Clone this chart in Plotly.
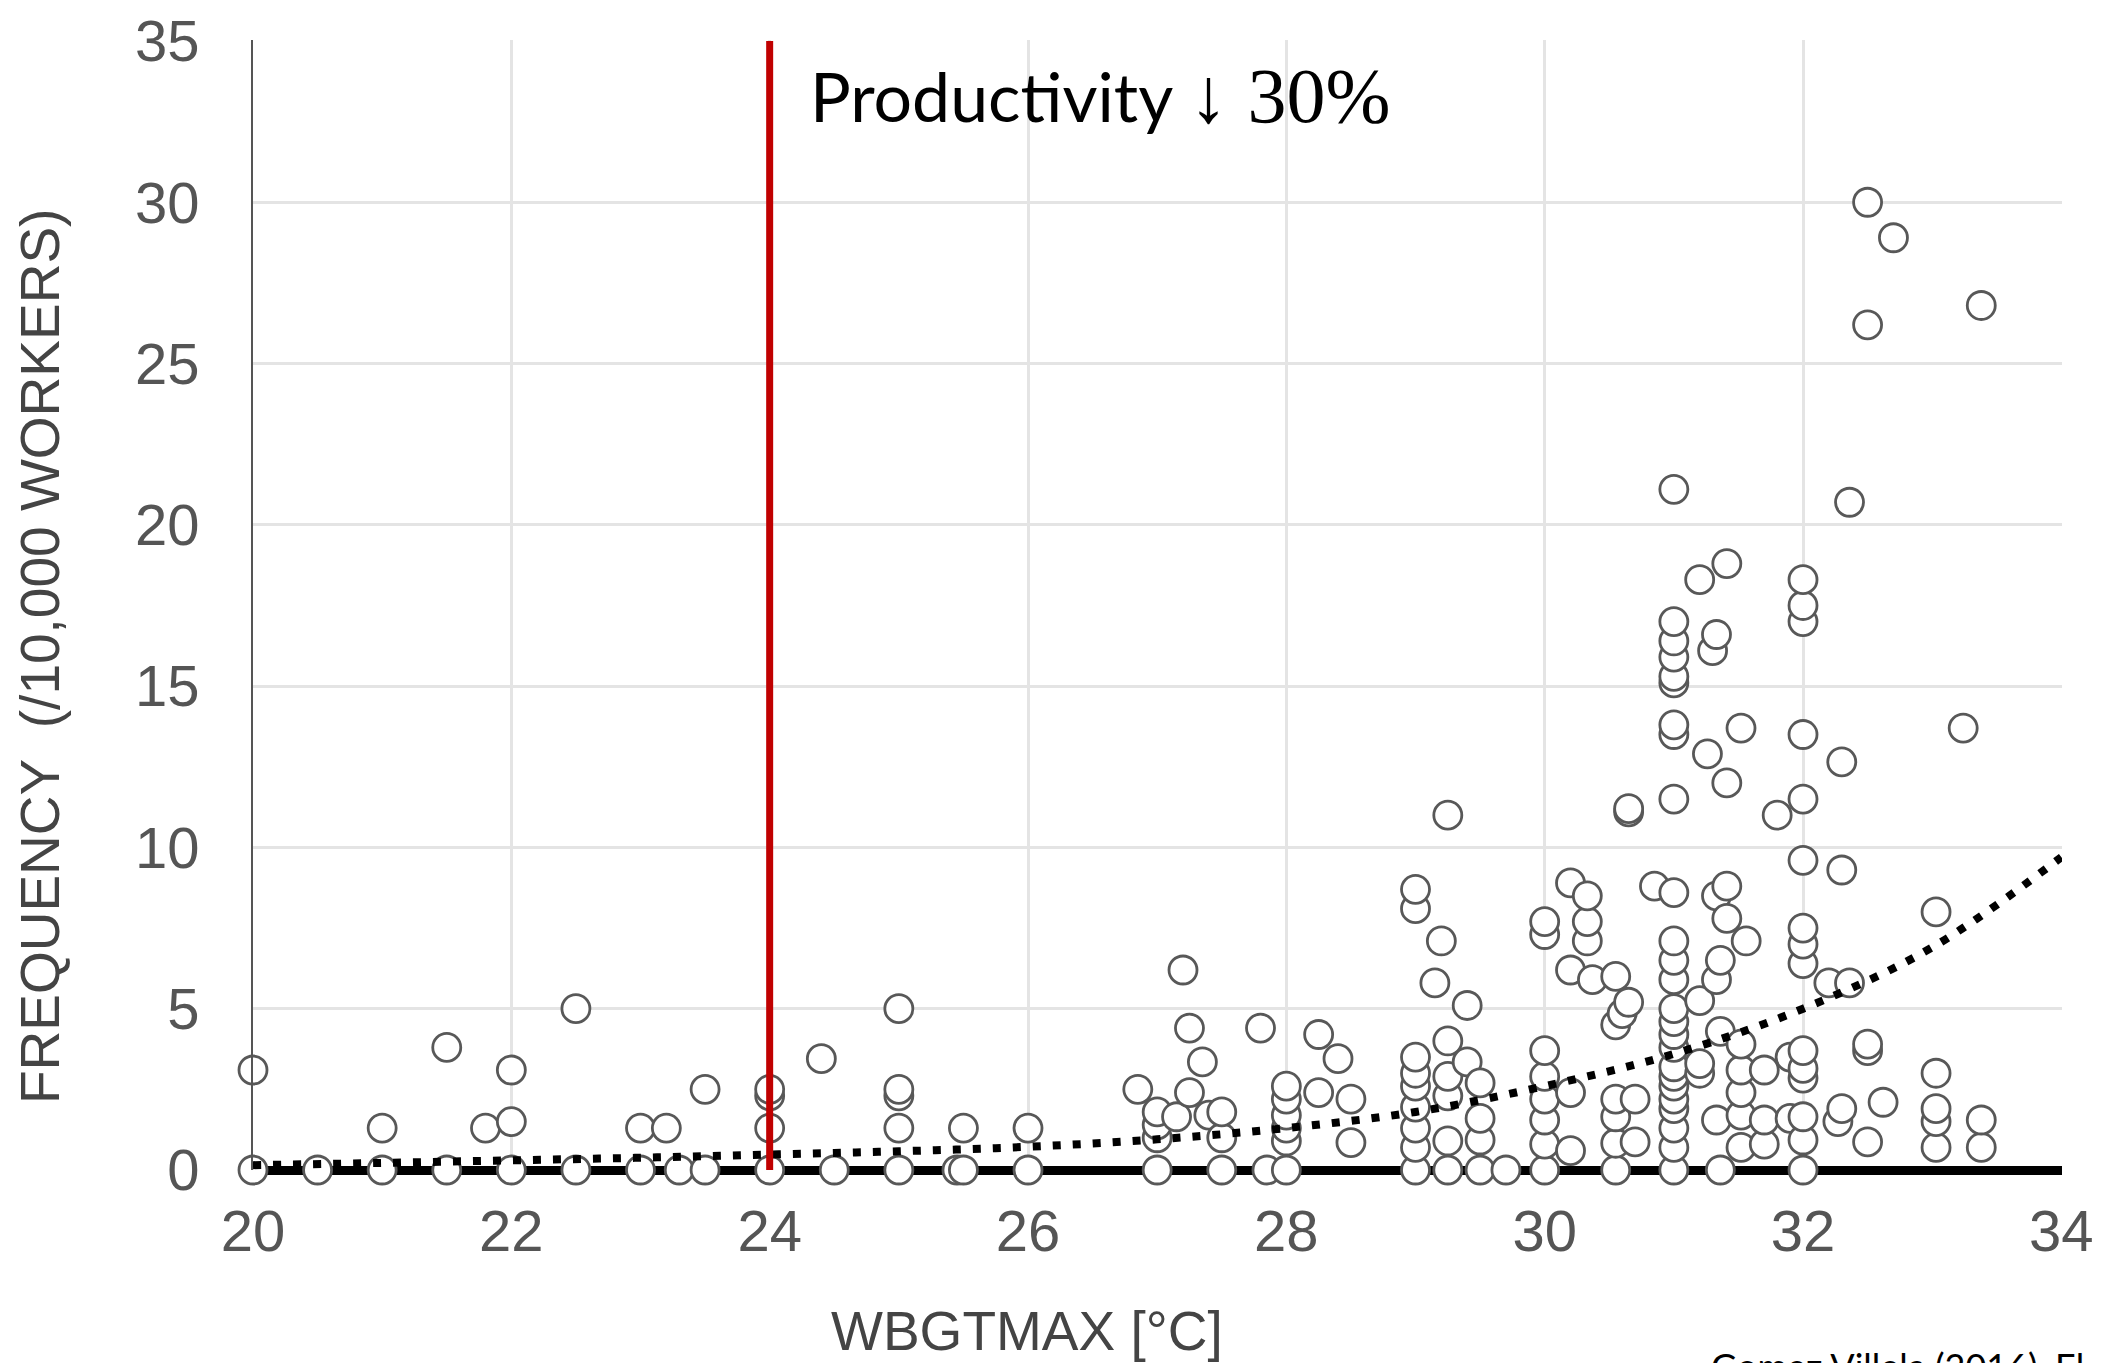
import plotly.graph_objects as go

# ---- data ----
wbgt_max = [
    20.0, 20.0,
    20.5,
    21.0, 21.0,
    21.5, 21.5,
    21.8,
    22.0, 22.0, 22.0,
    22.5, 22.5,
    23.0, 23.0,
    23.2,
    23.3,
    23.5, 23.5,
    24.0, 24.0, 24.0, 24.0,
    24.4,
    24.5,
    25.0, 25.0, 25.0, 25.0, 25.0,
    25.45,
    25.5, 25.5,
    26.0, 26.0,
    26.85,
    27.0, 27.0, 27.0, 27.0,
    27.15,
    27.2,
    27.25, 27.25,
    27.35,
    27.4,
    27.5, 27.5, 27.5,
    27.8,
    27.85,
    28.0, 28.0, 28.0, 28.0, 28.0, 28.0,
    28.25, 28.25,
    28.4,
    28.5, 28.5,
    29.0, 29.0, 29.0, 29.0, 29.0, 29.0, 29.0, 29.0, 29.0,
    29.15,
    29.2,
    29.25, 29.25, 29.25, 29.25, 29.25, 29.25,
    29.4, 29.4,
    29.5, 29.5, 29.5, 29.5,
    29.7,
    30.0, 30.0, 30.0, 30.0, 30.0, 30.0, 30.0, 30.0,
    30.2, 30.2, 30.2, 30.2,
    30.33, 30.33, 30.33,
    30.37,
    30.55, 30.55, 30.55, 30.55, 30.55, 30.55,
    30.6,
    30.65, 30.65, 30.65,
    30.7, 30.7,
    30.85,
    31.0, 31.0, 31.0, 31.0, 31.0, 31.0, 31.0, 31.0, 31.0, 31.0, 31.0, 31.0, 31.0,
    31.0, 31.0, 31.0, 31.0, 31.0, 31.0, 31.0, 31.0, 31.0, 31.0, 31.0, 31.0,
    31.2, 31.2, 31.2, 31.2,
    31.26,
    31.3,
    31.33, 31.33, 31.33, 31.33,
    31.36, 31.36, 31.36,
    31.41, 31.41, 31.41, 31.41,
    31.52, 31.52, 31.52, 31.52, 31.52, 31.52,
    31.56,
    31.7, 31.7, 31.7,
    31.8,
    31.9, 31.9,
    32.0, 32.0, 32.0, 32.0, 32.0, 32.0, 32.0, 32.0, 32.0, 32.0, 32.0, 32.0, 32.0, 32.0, 32.0,
    32.2,
    32.27,
    32.3, 32.3, 32.3,
    32.36, 32.36,
    32.5, 32.5, 32.5, 32.5, 32.5,
    32.62,
    32.7,
    33.03, 33.03, 33.03, 33.03, 33.03,
    33.24,
    33.38, 33.38, 33.38,
]

frequency = [
    0, 3.1,
    0,
    0, 1.3,
    0, 3.8,
    1.3,
    0, 1.5, 3.1,
    0, 5.0,
    0, 1.3,
    1.3,
    0,
    0, 2.5,
    0, 1.3, 2.3, 2.5,
    3.45,
    0,
    0, 1.3, 2.3, 2.5, 5.0,
    0,
    0, 1.3,
    0, 1.3,
    2.5,
    0, 1.0, 1.4, 1.8,
    1.65,
    6.2,
    2.4, 4.4,
    3.35,
    1.7,
    0, 1.0, 1.8,
    4.4,
    0,
    0, 0.9, 1.3, 1.7, 2.2, 2.6,
    2.4, 4.2,
    3.45,
    0.85, 2.2,
    0, 0.7, 1.3, 1.95, 2.6, 3.0, 3.5, 8.1, 8.7,
    5.8,
    7.1,
    0, 0.9, 2.3, 2.9, 4.0, 11.0,
    3.35, 5.1,
    0, 0.93, 1.6, 2.7,
    0,
    0, 0.8, 1.55, 2.2, 2.9, 3.7, 7.3, 7.7,
    0.6, 2.4, 6.2, 8.9,
    7.1, 7.7, 8.5,
    5.9,
    0, 0.83, 1.65, 2.2, 4.5, 6.0,
    4.85,
    5.2, 11.1, 11.2,
    0.87, 2.2,
    8.8,
    0, 0.7, 1.3, 1.9, 2.2, 2.6, 2.9, 3.2, 3.8, 4.2, 4.6, 5.0, 5.9,
    6.5, 7.1, 8.6, 11.5, 13.5, 13.8, 15.1, 15.3, 15.9, 16.4, 17.0, 21.1,
    3.0, 3.3, 5.25, 18.3,
    12.9,
    16.1,
    1.55, 5.9, 8.5, 16.6,
    0, 4.3, 6.5,
    7.8, 8.8, 12.0, 18.8,
    0.7, 1.7, 2.4, 3.1, 3.9, 13.7,
    7.1,
    0.8, 1.55, 3.1,
    11.0,
    1.6, 3.5,
    0, 0.93, 1.65, 2.85, 3.15, 3.7, 6.4, 7.0, 7.5, 9.6, 11.5, 13.5, 17.0, 17.5, 18.3,
    5.8,
    1.5,
    1.9, 9.3, 12.65,
    5.8, 20.7,
    0.87, 3.7, 3.9, 26.2, 30.0,
    2.1,
    28.9,
    0.7, 1.5, 1.9, 3.0, 8.0,
    13.7,
    0.7, 1.55, 26.8,
]

# exponential trend line values read at each integer temperature
trend_x = [20, 21, 22, 23, 24, 25, 26, 27, 28, 29, 30, 31, 32, 33, 34]
trend_y = [0.15, 0.22, 0.3, 0.38, 0.48, 0.58, 0.72, 0.95, 1.3, 1.8, 2.6, 3.6, 5.0, 6.9, 9.7]

threshold_x = 24
x_ticks = [20, 22, 24, 26, 28, 30, 32, 34]
y_ticks = [0, 5, 10, 15, 20, 25, 30, 35]

# ---- figure ----
fig = go.Figure()

fig.add_trace(go.Scatter(
    x=wbgt_max, y=frequency, mode="markers",
    marker=dict(symbol="circle", size=28, color="white",
                line=dict(color="#585858", width=2.8)),
    cliponaxis=False, showlegend=False, hoverinfo="x+y",
))

fig.add_trace(go.Scatter(
    x=trend_x, y=trend_y, mode="lines",
    line=dict(color="black", width=8, dash="8px,12px", shape="spline"),
    cliponaxis=False, showlegend=False, hoverinfo="skip",
))

fig.add_shape(type="line", xref="x", yref="y",
              x0=threshold_x, x1=threshold_x, y0=0, y1=35,
              line=dict(color="#C00000", width=7), layer="above")

tick_font = dict(family="Liberation Sans, Arial, sans-serif", size=58, color="#555555")
title_font = dict(family="Liberation Sans, Arial, sans-serif", size=55, color="#444444")

# the page body adds an 8px offset, so the figure is 8px smaller than the window
fig.update_layout(
    width=2105, height=1355,
    margin=dict(l=245, r=51, t=32, b=193, autoexpand=False),
    paper_bgcolor="white", plot_bgcolor="white",
    xaxis=dict(
        range=[20, 34.005], tickvals=x_ticks, ticktext=[str(v) for v in x_ticks],
        showgrid=True, gridcolor="#e4e4e4", gridwidth=3,
        zeroline=False, showline=False, ticks="", automargin=False,
        tickfont=tick_font, ticklabelstandoff=22, ticklabeloverflow="allow",
    ),
    yaxis=dict(
        range=[0, 35.03], tickvals=y_ticks, ticktext=[str(v) for v in y_ticks],
        showgrid=True, gridcolor="#e4e4e4", gridwidth=3,
        zeroline=True, zerolinecolor="black", zerolinewidth=9,
        showline=True, linecolor="#555555", linewidth=2, mirror=False, ticks="",
        automargin=False, tickfont=tick_font, ticklabelstandoff=40,
        ticklabeloverflow="allow",
    ),
)

# axis titles (off-centre in the reference, so placed as annotations)
fig.add_annotation(
    x=0.428, y=-0.1425, xref="paper", yref="paper", xanchor="center", yanchor="middle",
    text="WBGTMAX [°C]", showarrow=False, font=title_font,
)
fig.add_annotation(
    x=-0.1177, y=0.454, xref="paper", yref="paper", xanchor="center", yanchor="middle",
    text="FREQUENCY\u00a0\u00a0(/10,000 WORKERS)", textangle=-90, showarrow=False,
    font=title_font,
)

fig.add_annotation(
    x=24.3, y=33.3, xref="x", yref="y", xanchor="left", yanchor="middle",
    text="Productivity <span style=\"font-family:'Liberation Serif', 'Times New Roman', serif; font-size:78px\">↓ 30%</span>",
    showarrow=False,
    font=dict(family="Lato, 'Open Sans', sans-serif", size=68, color="black"),
)

fig.add_annotation(
    x=(1709 - 253) / 1809, y=-0.152, xref="paper", yref="paper", xanchor="left", yanchor="top",
    text="Gomez Villela (2016), El", showarrow=False,
    font=dict(family="Lato, 'Open Sans', sans-serif", size=36, color="black"),
)

fig.write_html("out.html")
